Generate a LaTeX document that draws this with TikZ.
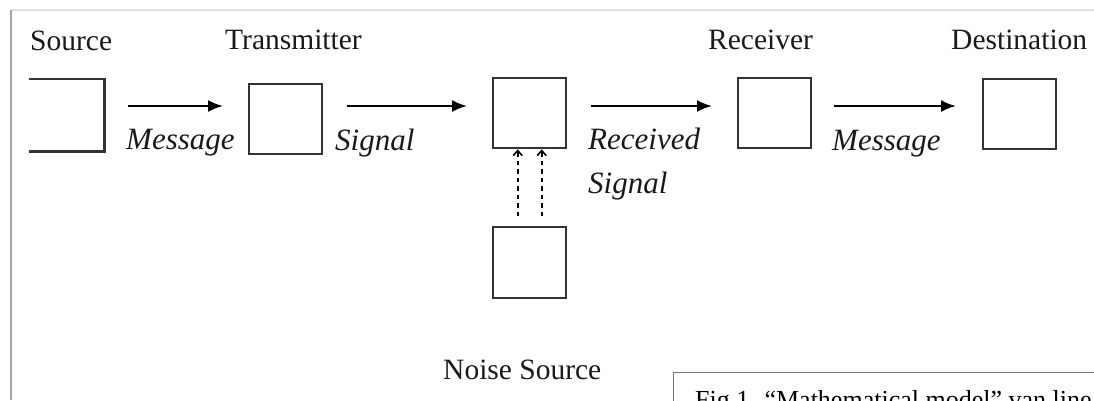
\documentclass[tikz,border=0pt]{standalone}
\usepackage{fontspec}
\setmainfont{Liberation Serif}
\usetikzlibrary{arrows.meta}
\definecolor{boxline}{HTML}{333333}
\definecolor{txt}{HTML}{1A1A1A}
\tikzset{
  x=1pt, y=-1pt,
  blk/.style={draw=boxline, line width=2.4pt, minimum width=73pt, minimum height=70pt, inner sep=0pt, anchor=north west},
  lbl/.style={inner sep=0pt, anchor=base west, text=txt, font=\fontsize{29.5}{34}\selectfont},
  ilbl/.style={inner sep=0pt, anchor=base west, text=txt, font=\fontsize{31}{44}\selectfont\itshape},
  arr/.style={line width=2.2pt, -{Latex[length=15pt,width=12pt]}},
  darr/.style={line width=2pt, dash pattern=on 4.5pt off 4pt, -{Straight Barb[length=5pt,width=9pt,line width=1.6pt]}},
}
\begin{document}
\begin{tikzpicture}
\useasboundingbox (0,0) rectangle (1094,400);
\clip (0,0) rectangle (1094,400);
\fill[white] (0,0) rectangle (1094,400);
% frame
\draw[color=black!13, line width=1.5pt] (11,10) -- (1094,10);
\draw[color=black!35, line width=2.2pt] (11,10) -- (11,400);
% boxes
\node[blk, draw=none] (src) at (29,79) {};
\draw[boxline, line width=2.4pt] (src.north west) -- (src.north east) -- (src.south east) -- (src.south west);
\node[blk] (tx) at (248,83) {};
\node[blk] (ch) at (492,77) {};
\node[blk] (rx) at (737,77) {};
\node[blk] (dst) at (982,78) {};
\node[blk, minimum height=71pt] (noise) at (492,226) {};
% labels
\node[lbl] (lsrc) at (30,50) {Source};
\node[lbl] (ltx) at (225,49) {Transmitter};
\node[lbl] (lrx) at (708,49) {Receiver};
\node[lbl] (ldst) at (951,49) {Destination};
\node[lbl] (lnoise) at (443,379) {Noise Source};
\node[ilbl] (m1) at (126,149) {Message};
\node[ilbl] (s1) at (335,150) {Signal};
\node[ilbl, align=left] (rs) at (588,193) {Received\\Signal};
\node[ilbl] (m2) at (832,150) {Message};
% arrows
\coordinate (ay) at (0,106);
\draw[arr, shorten <=24pt, shorten >=25pt] (src.east |- ay) -- (tx.west |- ay);
\draw[arr, shorten <=24pt, shorten >=25pt] (tx.east |- ay) -- (ch.west |- ay);
\draw[arr, shorten <=24pt, shorten >=25pt] (ch.east |- ay) -- (rx.west |- ay);
\draw[arr, shorten <=22pt, shorten >=26pt] (rx.east |- ay) -- (dst.west |- ay);
% noise arrows
\draw[darr, shorten <=10pt] ([xshift=-12pt]noise.north) -- ([xshift=-12pt]ch.south);
\draw[darr, shorten <=10pt] ([xshift=12pt]noise.north) -- ([xshift=12pt]ch.south);
% caption box
\node[draw=black!55, line width=1.4pt, anchor=north west, minimum width=500pt, minimum height=60pt, inner sep=0pt] (cap) at (673,372) {};
\node[inner sep=0pt, anchor=base west, text=black, font=\fontsize{26}{30}\selectfont] (captxt) at (695,408) {Fig 1. “Mathematical model” van line};
\end{tikzpicture}
\end{document}
